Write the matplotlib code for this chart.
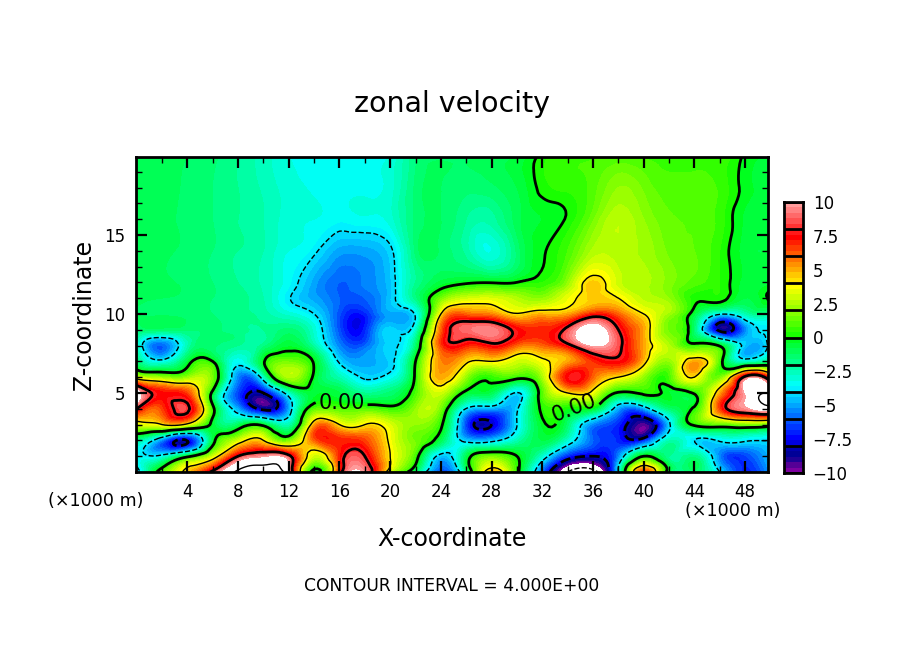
import numpy as np
import matplotlib
matplotlib.use("Agg")
import matplotlib.pyplot as plt
from matplotlib.colors import ListedColormap, BoundaryNorm
from matplotlib.tri import Triangulation, UniformTriRefiner

z_km = [0, 1, 2, 3, 4, 5, 6, 7, 8, 9, 10, 11, 12, 14, 16, 18, 20]
x_km = list(range(0, 51, 2))

u00 = [-5, -3.5, -2, 3, 8, 11, 3, -1.5, -2.5, -1.5, -1.2, -1, -.9, -.9, -1, -.9, -.9]
u02 = [1, -3.5, -5.5, 4, 6.5, 7.3, 2, -3.5, -6, -1.5, -1.3, -1.2, -1.1, -1.1, -1.1, -1, -1]
u04 = [4.5, -.5, -8, 3.5, 8.3, 6.5, 2, -.7, -2.5, -1.5, -1.3, -1.3, -1.3, -1.3, -1.3, -1.3, -1.2]
u06 = [8.5, 3, -.7, -.5, .5, -.5, 1.5, 0, -1.5, -1.5, -1.6, -1.6, -1.6, -1.6, -1.6, -1.6, -1.5]
u08 = [12.5, 8, 3, -1.2, -5, -6.5, -5.5, -3.5, -2, -1.8, -1.9, -1.9, -2, -2, -2, -2, -2]
u10 = [14, 9.5, 4, -.5, -8.5, -8, -3, -.2, -1.8, -2, -2.2, -2.4, -2.5, -2.4, -2.4, -2.5, -2.6]
u12 = [10, 8.5, 1.5, -2.5, -5, -3, 2.5, 1.5, -.5, -1.5, -3, -3.9, -3.5, -3.2, -3, -3, -3.2]
u14 = [-.5, 3, 6, 5, 1, -.5, -.3, -.2, -2.3, -3, -4, -5, -5, -3.8, -3.2, -3.3, -3.4]
u16 = [7, 7, 7, 4, 1, -.8, -2.5, -4.2, -5.5, -6.3, -6.3, -6, -6, -5, -3.5, -3.4, -3.6]
u18 = [9.5, 8, 6.5, 4, 1, -2, -4.2, -5, -6, -7, -7, -6, -5.5, -5, -3.3, -3.3, -3.5]
u20 = [3, 4, 3.7, 3.2, .5, -1.5, -3.5, -4.3, -4.2, -4.2, -5, -4.5, -4.5, -4.2, -3, -3, -3.2]
u22 = [-1.5, .7, 1.5, 2, 2, .8, .3, 0, -1.5, -3, -3.8, -1.8, -2, -1.5, -1.5, -1.5, -1.7]
u24 = [-6.5, -4.5, -1, .3, 1.5, 3, 5, 5.5, 6.5, 6, 4, 1.5, -.7, -1.3, -1.2, -1.2, -1.3]
u26 = [-2, -1, -4.5, -6.5, -4.1, -.5, 2, 4.3, 7, 9, 6, 3, -.2, -2.2, -2, -1.5, -1.3]
u28 = [5, 1.5, -4.5, -8, -5, -1, .5, 4, 7.5, 9.5, 5.5, 3.2, -.1, -3.2, -2.2, -1.3, -1]
u30 = [.5, 0, -2.5, -4, -4.2, -4.1, .5, 3, 6, 7.5, 4.1, 2.5, 0, -1.5, -1, -.8, -.8]
u32 = [-6, -3, -.8, -.3, .3, 1, 2.3, 3.7, 6, 7, 4.8, 2, .4, -.1, -.4, .2, .2]
u34 = [-12, -7, -3, -1.5, 0, 4, 7.5, 5, 7.5, 8.5, 5, 3.5, 2, .8, .1, .5, .6]
u36 = [-13, -8, -6, -5.5, -.5, 3.5, 6, 6.8, 10, 11, 7, 4.5, 4.5, 2.5, 1.5, 1, .7]
u38 = [-4, -5.5, -7, -7, -5, -.2, 4, 7.5, 8.5, 8, 6, 4, 3, 2.6, 2.7, 2, .8]
u40 = [6.5, 0, -7, -9.5, -5, .3, 2, 4.6, 5, 5, 4, 2.7, 2.5, 2.3, 2, 1.5, .7]
u42 = [-1, -2, -2.5, -4.3, -1.5, -.4, .8, 2, 2.5, 1.5, 2.2, 2, 1.8, 1.5, 1.3, 1, .6]
u44 = [-1.5, -1.8, -4, .3, .3, .2, 4, 5, .5, -1.5, -.7, .2, 1, 1.2, 1.1, 1, .5]
u46 = [-4, -5.5, -3.8, 1, 6.5, 5, 1.5, .8, -.2, -8.5, -3.8, .3, .4, .4, .6, .7, .7]
u48 = [-7, -6.5, -3.8, 1.5, 9.5, 10, 8.5, -3, -4.5, -5.5, -2.5, -.8, -.6, -.6, -.5, -.2, -.1]
u50 = [-5, -4.5, -4, 1, 11, 12, 6, -1.5, -3.5, -3.5, -2.5, .2, -.5, -.7, -.7, -.6, -.5]

columns = [u00, u02, u04, u06, u08, u10, u12, u14, u16, u18, u20, u22, u24,
           u26, u28, u30, u32, u34, u36, u38, u40, u42, u44, u46, u48, u50]

band_rgb = [(125,0,160),(85,0,150),(30,0,150),(0,0,150),(0,0,175),
            (0,0,225),(0,0,255),(0,30,255),(0,55,255),(0,80,255),
            (0,110,255),(0,135,255),(0,165,255),(0,190,255),(0,215,255),
            (0,240,255),(0,255,245),(0,255,215),(0,255,190),(0,255,165),
            (0,255,135),(0,255,110),(0,255,85),(0,255,60),(0,255,30),
            (25,255,0),(50,255,0),(80,255,0),(105,255,0),(130,255,0),
            (155,255,0),(180,255,0),(205,255,0),(230,255,0),(255,255,0),
            (255,225,0),(255,200,0),(255,170,0),(255,145,0),(255,115,0),
            (255,90,0),(255,60,0),(255,30,0),(255,0,0),(255,25,25),
            (255,50,50),(255,80,80),(255,105,105),(255,130,130),(255,155,155)]

W, H = 904, 654
plt.rcParams['font.family'] = 'DejaVu Sans'
fig = plt.figure(figsize=(W/100, H/100), dpi=100)

def box(l, t, r, b):
    return [l/W, 1-b/H, (r-l)/W, (b-t)/H]

ax = fig.add_axes(box(136, 157, 768, 472))
levels = np.linspace(-10, 10, 51)
cmap = ListedColormap([tuple(c/255 for c in rgb) for rgb in band_rgb])
cmap.set_over('white'); cmap.set_under('white')
norm = BoundaryNorm(levels, cmap.N)

X, Z = np.meshgrid(x_km, z_km, indexing='ij')
U = np.array(columns, dtype=float)
tri = Triangulation(X.ravel(), Z.ravel())
tri_f, u_f = UniformTriRefiner(tri).refine_field(U.ravel(), subdiv=3)

ax.tricontourf(tri_f, u_f, levels=levels, cmap=cmap, norm=norm, extend='both')
ax.tricontour(tri_f, u_f, levels=[-4, 4, 12], colors='k', linewidths=1.0,
              linestyles=['--', '-', '-'])
ax.tricontour(tri_f, u_f, levels=[-12, -8], colors='k', linewidths=[1.0, 2.0],
              linestyles='--')
cs0 = ax.tricontour(tri_f, u_f, levels=[0, 8], colors='k', linewidths=2.0)
labels0 = ax.clabel(cs0, levels=[0], fmt='%.2f', fontsize=15, inline=True, inline_spacing=3,
                    manual=[(16.2, 4.6), (34.5, 4.2)])
labels0[0].set_rotation(0)

ax.set_xlim(-0.05, 49.8)
ax.set_ylim(0, 19.93)
ax.set_xticks(range(4, 49, 4))
ax.set_xticks(range(2, 50, 2), minor=True)
ax.set_yticks([5, 10, 15])
ax.set_yticks(range(1, 20), minor=True)
ax.tick_params(which='major', direction='in', top=True, right=True, length=8, width=1.6,
               labelsize=12, pad=8)
ax.tick_params(which='minor', direction='in', top=True, right=True, length=4, width=1.0)
for s in ax.spines.values():
    s.set_linewidth(2)

fig.text(452/W, 1-104/H, 'zonal velocity', ha='center', va='center', fontsize=20.5)
fig.text(452/W, 1-539/H, 'X-coordinate', ha='center', va='center', fontsize=17)
fig.text(84/W, 1-315/H, 'Z-coordinate', ha='center', va='center', rotation=90, fontsize=17)
fig.text(452/W, 1-586/H, 'CONTOUR INTERVAL = 4.000E+00', ha='center', va='center', fontsize=12.3)
fig.text(96/W, 1-501/H, '(×1000 m)', ha='center', va='center', fontsize=12.6)
fig.text(733/W, 1-511/H, '(×1000 m)', ha='center', va='center', fontsize=12.6)

cax = fig.add_axes(box(784, 202, 803, 473))
cax.pcolormesh([0, 1], levels, np.array(levels[:-1] + 0.2).reshape(-1, 1), cmap=cmap, norm=norm)
for v in range(-10, 11, 2):
    cax.axhline(v, color='k', lw=2)
cax.set_xlim(0, 1); cax.set_ylim(-10, 10)
cax.set_xticks([])
cax.yaxis.tick_right()
cbar_ticks = [-10, -7.5, -5, -2.5, 0, 2.5, 5, 7.5, 10]
cax.set_yticks(cbar_ticks)
cax.set_yticklabels(['\u221210', '\u22127.5', '\u22125', '\u22122.5', '0', '2.5', '5', '7.5', '10'])
cax.tick_params(axis='y', length=0, labelsize=12, pad=7)
for s in cax.spines.values():
    s.set_linewidth(2)

fig.savefig('out.png', dpi=100)
